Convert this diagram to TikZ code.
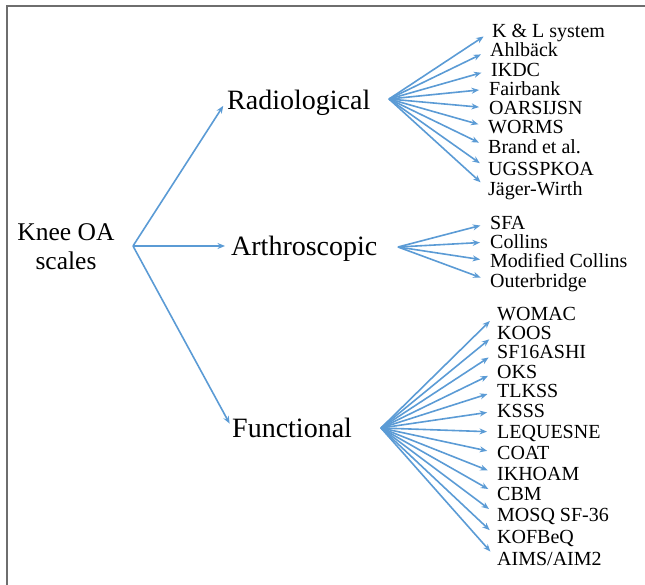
\documentclass[tikz,border=0pt]{standalone}
\usepackage{fontspec}
\setmainfont{Liberation Serif}
\usetikzlibrary{arrows.meta}
\definecolor{arrowblue}{HTML}{5B9BD5}
\definecolor{framegray}{HTML}{6E6E6E}
\begin{document}
\begin{tikzpicture}[x=1pt,y=-1pt,
  arr/.style={draw=arrowblue, line width=1.6pt, -{Stealth[length=7.5pt,width=6pt]}},
  mainlab/.style={anchor=west, inner sep=0pt, font=\fontsize{28}{30}\selectfont, text height=19pt, text depth=0pt},
  leaf/.style={anchor=west, inner sep=0pt, font=\fontsize{20}{20}\selectfont, text height=13.5pt, text depth=0pt},
  rootlab/.style={align=center, inner sep=0pt, font=\fontsize{25.5}{29}\selectfont}
]
\useasboundingbox (0,0) rectangle (645,585);
\draw[framegray, line width=1.5pt] (7,585) -- (7,6) -- (645,6);

% root
\node[rootlab] (root) at (66,247) {Knee OA\\scales};
\coordinate (o) at (133,246);

% main categories
\node[mainlab] (rad) at (227,100) {Radiological};
\node[mainlab] (art) at (231,246) {Arthroscopic};
\node[mainlab] (fun) at (232,428) {Functional};
\draw[arr, shorten >=7pt] (o) -- (rad.west);
\draw[arr, shorten >=6pt] (o) -- (art.west);
\draw[arr, shorten >=5pt] (o) -- (fun.west);

% fan origins
\coordinate (r0) at (389,99);
\coordinate (a0) at (398,247);
\coordinate (f0) at (381,428);

% radiological leaves
\node[leaf] (r1) at (492,31) {K \& L system};
\node[leaf] (r2) at (490,50) {Ahlbäck};
\node[leaf] (r3) at (491,70) {IKDC};
\node[leaf] (r4) at (489,89) {Fairbank};
\node[leaf] (r5) at (489,108) {OARSIJSN};
\node[leaf] (r6) at (488,127) {WORMS};
\node[leaf] (r7) at (488,147) {Brand et al.};
\node[leaf] (r8) at (488,169) {UGSSPKOA};
\node[leaf] (r9) at (488,189) {Jäger-Wirth};
\foreach \n in {r1,r2,r3,r4,r5,r6,r7,r8,r9}
  \draw[arr, shorten >=10pt] (r0) -- (\n.west);

% arthroscopic leaves
\node[leaf] (a1) at (490,223) {SFA};
\node[leaf] (a2) at (490,242) {Collins};
\node[leaf] (a3) at (490,261) {Modified Collins};
\node[leaf] (a4) at (490,281) {Outerbridge};
\foreach \n in {a1,a2,a3,a4}
  \draw[arr, shorten >=10pt] (a0) -- (\n.west);

% functional leaves
\node[leaf] (f1) at (497,314) {WOMAC};
\node[leaf] (f2) at (497,333) {KOOS};
\node[leaf] (f3) at (497,352) {SF16ASHI};
\node[leaf] (f4) at (497,371.5) {OKS};
\node[leaf] (f5) at (497,391) {TLKSS};
\node[leaf] (f6) at (497,411) {KSSS};
\node[leaf] (f7) at (497,432) {LEQUESNE};
\node[leaf] (f8) at (497,453) {COAT};
\node[leaf] (f9) at (497,474) {IKHOAM};
\node[leaf] (f10) at (497,494) {CBM};
\node[leaf] (f11) at (497,515) {MOSQ SF-36};
\node[leaf] (f12) at (497,537) {KOFBeQ};
\node[leaf] (f13) at (497,559) {AIMS/AIM2};
\foreach \n in {f1,f2,f3,f4,f5,f6,f7,f8,f9,f10,f11,f12,f13}
  \draw[arr, shorten >=10pt] (f0) -- (\n.west);
\end{tikzpicture}
\end{document}
